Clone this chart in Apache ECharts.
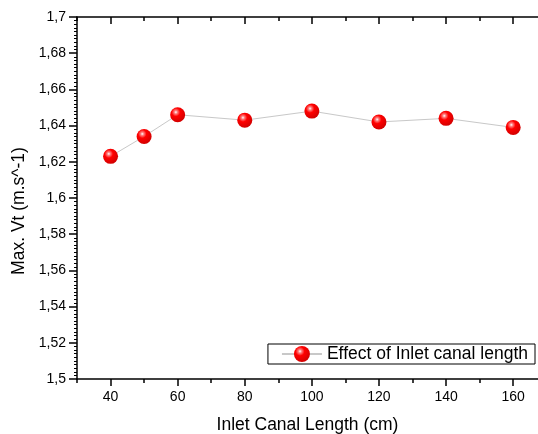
<!DOCTYPE html>
<html>
<head>
<meta charset="utf-8">
<script src="https://cdn.jsdelivr.net/npm/echarts@6/dist/echarts.min.js"></script>
<style>
  html, body { margin: 0; padding: 0; background: #fff; }
  #chart { width: 538px; height: 434px; }
</style>
</head>
<body>
<div id="chart"></div>
<script>
// data
const canalLength = [40, 50, 60, 80, 100, 120, 140, 160] // cm
const maxVt = [1.623, 1.634, 1.646, 1.643, 1.648, 1.642, 1.644, 1.639]
const xMajorTicks = [40, 60, 80, 100, 120, 140, 160]
const xMinorTicks = [30, 50, 70, 90, 110, 130, 150]
const seriesName = 'Effect of Inlet canal length'

const font = 'Arial, "Liberation Sans", sans-serif'
const chart = echarts.init(document.getElementById('chart'))

// red ball marker
const ball = new echarts.graphic.RadialGradient(0.38, 0.33, 0.7, [
  { offset: 0, color: '#ffffff' },
  { offset: 0.15, color: '#ff8080' },
  { offset: 0.4, color: '#ff0000' },
  { offset: 1, color: '#d00000' }
])

// the plot is cut at the right edge of the picture (x max ~167)
const xMin = 30
const xMax = 167.4

// one x axis per tick style (bottom + mirrored top)
const xAxisBase = {
  type: 'value',
  min: xMin,
  max: xMax,
  splitLine: { show: false },
  axisLine: { show: false, lineStyle: { color: '#000', width: 1.5 } }
}
const xAxes = [
  {
    ...xAxisBase,
    position: 'bottom',
    axisLine: { show: true, onZero: false, lineStyle: { color: '#000', width: 1.5 } },
    axisTick: { customValues: xMajorTicks, length: 7, lineStyle: { color: '#000', width: 1.5 } },
    axisLabel: { customValues: xMajorTicks, margin: 11, color: '#000', fontSize: 14, fontFamily: font },
    name: 'Inlet Canal Length (cm)',
    nameLocation: 'middle',
    nameGap: 37,
    nameTextStyle: { color: '#000', fontSize: 17.5, fontFamily: font }
  },
  {
    ...xAxisBase,
    position: 'bottom',
    axisTick: { customValues: xMinorTicks, length: 4, lineStyle: { color: '#000', width: 1.5 } },
    axisLabel: { show: false }
  },
  {
    ...xAxisBase,
    position: 'top',
    axisLine: { show: true, onZero: false, lineStyle: { color: '#000', width: 1.5 } },
    axisTick: { customValues: xMajorTicks, inside: true, length: 7, lineStyle: { color: '#000', width: 1.5 } },
    axisLabel: { show: false }
  },
  {
    ...xAxisBase,
    position: 'top',
    axisTick: { customValues: xMinorTicks, inside: true, length: 4, lineStyle: { color: '#000', width: 1.5 } },
    axisLabel: { show: false }
  }
]

const option = {
  animation: false,
  backgroundColor: '#fff',
  grid: { left: 77, right: 0, top: 17, bottom: 55, containLabel: false, outerBoundsMode: 'none' },
  xAxis: xAxes,
  yAxis: {
    type: 'value',
    min: 1.5,
    max: 1.7,
    interval: 0.02,
    splitLine: { show: false },
    axisLine: { show: true, onZero: false, lineStyle: { color: '#000', width: 1.5 } },
    axisTick: { length: 8, lineStyle: { color: '#000', width: 1.5 } },
    minorTick: { show: true, splitNumber: 10, length: 3, lineStyle: { color: '#000', width: 1 } },
    axisLabel: {
      margin: 11,
      color: '#000',
      fontSize: 14,
      fontFamily: font,
      formatter: (v) => String(+v.toFixed(2)).replace('.', ',')
    },
    name: 'Max. Vt (m.s^-1)',
    nameLocation: 'middle',
    nameGap: 45,
    nameTextStyle: { color: '#000', fontSize: 17.5, fontFamily: font, padding: [0, 26, 0, 0] }
  },
  legend: {
    data: [seriesName],
    right: 3,
    top: 344,
    orient: 'horizontal',
    padding: [1, 7, 1, 13],
    itemWidth: 40,
    itemHeight: 20,
    itemGap: 5,
    borderColor: '#000',
    borderWidth: 1,
    borderRadius: 0,
    textStyle: { color: '#000', fontSize: 17.5, fontFamily: font }
  },
  series: [
    {
      name: seriesName,
      type: 'line',
      xAxisIndex: 0,
      data: canalLength.map((x, i) => [x, maxVt[i]]),
      symbol: 'circle',
      symbolSize: 15,
      lineStyle: { color: '#c8c8c8', width: 1 },
      itemStyle: { color: ball, borderWidth: 0 }
    }
  ]
}
chart.setOption(option)
</script>
</body>
</html>
